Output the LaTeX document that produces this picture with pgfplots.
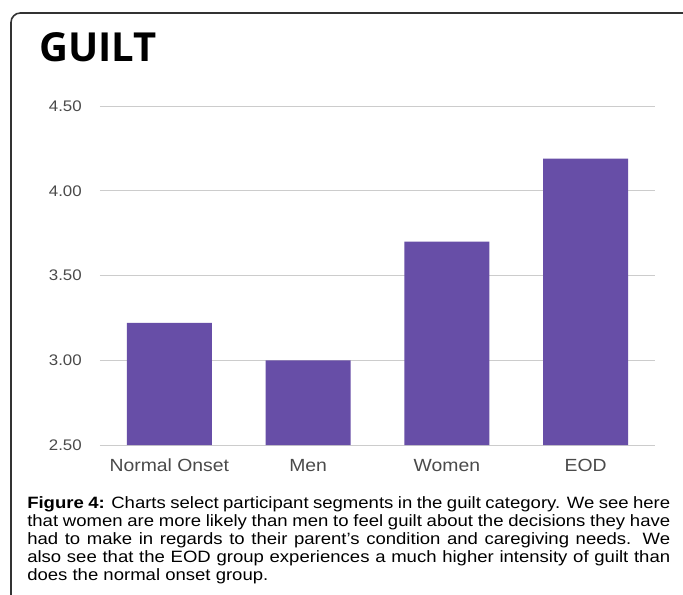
\documentclass[border=0pt]{standalone}
\usepackage{pgfplots}
\pgfplotsset{compat=1.18}
\usepackage{fontspec}
\setmainfont{Liberation Sans}
\newfontfamily\titlefont{Open Sans}
\newfontfamily\capfont{Liberation Sans}[FakeStretch=1.13]
\newfontfamily\tickfont{Liberation Sans}[FakeStretch=1.1]
\definecolor{barpurple}{HTML}{674EA7}
\definecolor{gridgray}{HTML}{CCCCCC}
\definecolor{ticktext}{HTML}{4A4A4A}
\definecolor{framegray}{HTML}{333333}
\begin{document}
\begin{tikzpicture}[x=0.75pt,y=0.75pt]
\useasboundingbox (0,0) rectangle (683,594);
\fill[white] (0,0) rectangle (683,594);
\begin{scope}
\clip (0,0) rectangle (683,594);
\draw[framegray, line width=1.2pt, rounded corners=7pt] (11,581) rectangle (720,-50);
\end{scope}
\node[anchor=base west, inner sep=0pt, font=\titlefont\bfseries\fontsize{30}{32}\selectfont] at (39,532) {GUILT};
\begin{axis}[
  at={(75pt,111.75pt)}, anchor=south west,
  scale only axis,
  width=416.25pt, height=254.25pt,
  xmin=-0.5, xmax=3.5,
  ymin=2.5, ymax=4.5,
  ytick={2.5,3,3.5,4,4.5},
  xtick={0,1,2,3},
  xticklabels={Normal Onset,Men,Women,EOD},
  axis line style={draw=none},
  major tick length=0pt,
  ymajorgrids,
  grid style={gridgray, line width=0.75pt},
  /pgf/number format/.cd, fixed, fixed zerofill, precision=2, assume math mode=true,
  /pgfplots/.cd,
  yticklabel style={anchor=east, inner sep=0pt, xshift=-13.5pt, text=ticktext, font=\tickfont\fontsize{11.5}{13}\selectfont},
  xticklabel style={anchor=base, inner sep=0pt, yshift=-19.5pt, text=ticktext, font=\tickfont\fontsize{13.2}{15}\selectfont},
  ybar, bar width=63.75pt, bar shift=0pt,
]
\addplot[fill=barpurple, draw=none] coordinates {(0,3.22) (1,3.00) (2,3.70) (3,4.19)};
\end{axis}
\node[anchor=north west, inner sep=0pt, text width=482.25pt, align=justify, font=\capfont\fontsize{12.3}{13.6}\selectfont, text=black] at (27,98) {%
\makebox[\linewidth][s]{\textbf{Figure 4:} Charts select participant segments in the guilt category. We see here}\\
\makebox[\linewidth][s]{that women are more likely than men to feel guilt about the decisions they have}\\
\makebox[\linewidth][s]{had to make in regards to their parent’s condition and caregiving needs. We}\\
\makebox[\linewidth][s]{also see that the EOD group experiences a much higher intensity of guilt than}\\
does the normal onset group.};
\end{tikzpicture}
\end{document}
